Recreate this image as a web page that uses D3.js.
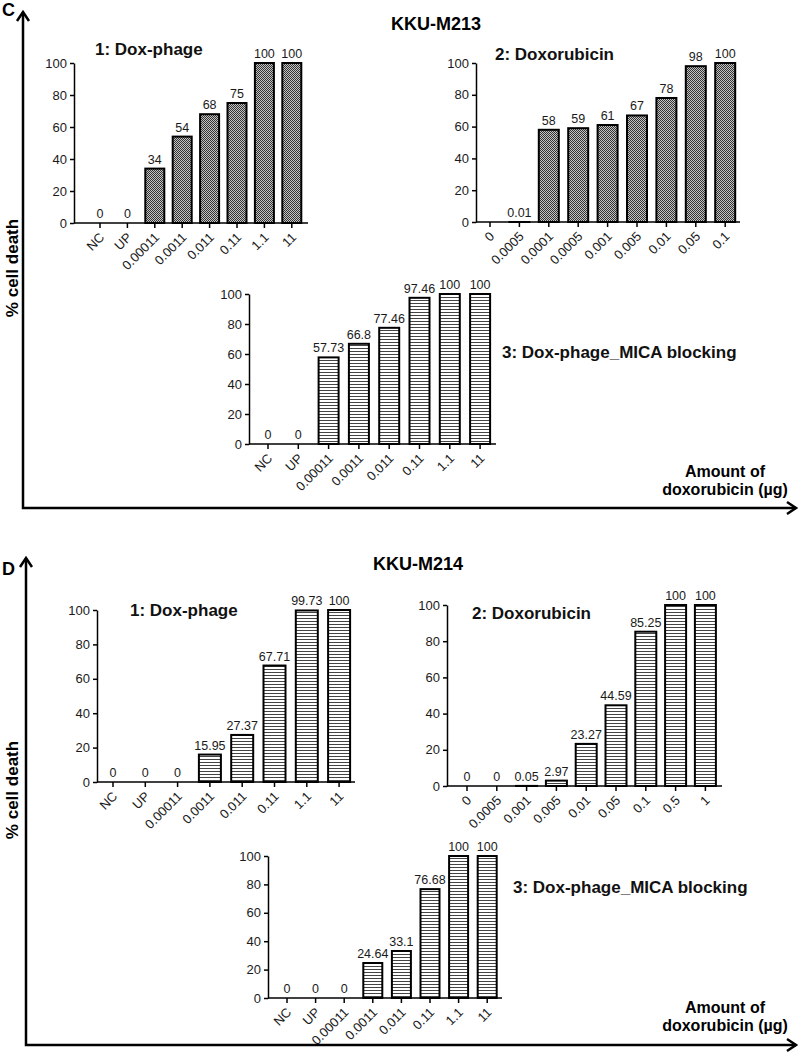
<!DOCTYPE html>
<html><head><meta charset="utf-8">
<script src="https://cdn.jsdelivr.net/npm/d3@7"></script>
<style>body{margin:0;background:#fff} text{font-family:"Liberation Sans",Arial,sans-serif}</style>
</head><body><svg id="c" width="799" height="1056"></svg>
<script>
// ---- data ----
const catsPhage = ["NC","UP","0.00011","0.0011","0.011","0.11","1.1","11"];
const catsDoxC = ["0","0.0005","0.0001","0.0005","0.001","0.005","0.01","0.05","0.1"];
const catsDoxD = ["0","0.0005","0.001","0.005","0.01","0.05","0.1","0.5","1"];
const valC1 = [0,0,34,54,68,75,100,100];
const lblC1 = ["0","0","34","54","68","75","100","100"];
const valC2 = [0,0.01,58,59,61,67,78,98,100];
const lblC2 = ["","0.01","58","59","61","67","78","98","100"];
const valC3 = [0,0,57.73,66.8,77.46,97.46,100,100];
const lblC3 = ["0","0","57.73","66.8","77.46","97.46","100","100"];
const valD1 = [0,0,0,15.95,27.37,67.71,99.73,100];
const lblD1 = ["0","0","0","15.95","27.37","67.71","99.73","100"];
const valD2 = [0,0,0.05,2.97,23.27,44.59,85.25,100,100];
const lblD2 = ["0","0","0.05","2.97","23.27","44.59","85.25","100","100"];
const valD3 = [0,0,0,24.64,33.1,76.68,100,100];
const lblD3 = ["0","0","0","24.64","33.1","76.68","100","100"];
const yTicks = [0,20,40,60,80,100];

const svg = d3.select("#c");
const defs = svg.append("defs");
const ch = defs.append("pattern").attr("id","check").attr("width",2).attr("height",2).attr("patternUnits","userSpaceOnUse");
ch.append("rect").attr("width",2).attr("height",2).attr("fill","#c4c4c4");
ch.append("rect").attr("width",1).attr("height",1).attr("fill","#333");
ch.append("rect").attr("x",1).attr("y",1).attr("width",1).attr("height",1).attr("fill","#333");
const st = defs.append("pattern").attr("id","stripe").attr("width",4).attr("height",3).attr("patternUnits","userSpaceOnUse");
st.append("rect").attr("width",4).attr("height",3).attr("fill","#fff");
st.append("rect").attr("width",4).attr("height",1).attr("fill","#444");

function chart(cfg){
  const n = cfg.cats.length;
  const pi = 1 - cfg.bw/cfg.step;
  const x = d3.scaleBand().domain(d3.range(n))
    .range([cfg.c0 - cfg.step/2, cfg.c0 + (n-0.5)*cfg.step]).paddingInner(pi).paddingOuter(pi/2);
  const y = d3.scaleLinear().domain([0,100]).range([cfg.y0, cfg.y100]);
  const g = svg.append("g");
  g.selectAll("rect.bar").data(cfg.vals).join("rect").attr("class","bar")
    .attr("x",(d,i)=>x(i)).attr("width",x.bandwidth())
    .attr("y",d=>y(d)).attr("height",d=>y(0)-y(d))
    .attr("fill",`url(#${cfg.pat})`).attr("stroke","#000").attr("stroke-width",2);
  g.selectAll("text.val").data(cfg.vals).join("text").attr("class","val")
    .attr("x",(d,i)=>x(i)+x.bandwidth()/2).attr("y",d=>y(d)-5)
    .attr("text-anchor","middle").attr("font-size",12.5).attr("fill","#1a1a1a")
    .text((d,i)=>cfg.lbls[i]);
  const gx = g.append("g").attr("transform",`translate(0,${cfg.y0})`)
    .call(d3.axisBottom(x).tickFormat(i=>cfg.cats[i]).tickSize(5).tickSizeOuter(0));
  gx.select(".domain").remove();
  gx.selectAll(".tick line").attr("stroke","#000").attr("stroke-width",1.5);
  gx.selectAll(".tick text").attr("x",0).attr("y",0).attr("dy","0.35em")
    .attr("transform","translate(2,12) rotate(-45)").attr("text-anchor","end")
    .attr("font-size",13).attr("fill","#1a1a1a").attr("font-family","Liberation Sans, Arial, sans-serif");
  g.append("line").attr("x1",cfg.ax).attr("x2",cfg.end).attr("y1",cfg.y0).attr("y2",cfg.y0)
    .attr("stroke","#000").attr("stroke-width",1.5);
  const gy = g.append("g").attr("transform",`translate(${cfg.ax},0)`)
    .call(d3.axisLeft(y).tickValues(yTicks).tickSize(4).tickSizeOuter(0));
  gy.select(".domain").attr("stroke","#000").attr("stroke-width",1.5);
  gy.selectAll(".tick line").attr("stroke","#000").attr("stroke-width",1.5);
  gy.selectAll(".tick text").attr("font-size",13).attr("fill","#1a1a1a")
    .attr("font-family","Liberation Sans, Arial, sans-serif");
  g.append("text").attr("x",cfg.tx).attr("y",cfg.ty).attr("font-size",17).attr("font-weight","bold")
    .attr("fill","#111").text(cfg.title);
}

chart({cats:catsPhage, vals:valC1, lbls:lblC1, pat:"check", ax:74, c0:100, step:27.4, bw:19, y0:223, y100:63, end:308, title:"1: Dox-phage", tx:95, ty:55});
chart({cats:catsDoxC, vals:valC2, lbls:lblC2, pat:"check", ax:476, c0:490, step:29.4, bw:20, y0:222, y100:63, end:740, title:"2: Doxorubicin", tx:495, ty:60});
chart({cats:catsPhage, vals:valC3, lbls:lblC3, pat:"stripe", ax:249, c0:268, step:30.3, bw:20, y0:444, y100:294, end:496, title:"3: Dox-phage_MICA blocking", tx:502, ty:358});
chart({cats:catsPhage, vals:valD1, lbls:lblD1, pat:"stripe", ax:97, c0:113, step:32.3, bw:22, y0:782, y100:610, end:355, title:"1: Dox-phage", tx:130, ty:616});
chart({cats:catsDoxD, vals:valD2, lbls:lblD2, pat:"stripe", ax:447, c0:467, step:29.8, bw:21, y0:786, y100:605, end:722, title:"2: Doxorubicin", tx:472, ty:619});
chart({cats:catsPhage, vals:valD3, lbls:lblD3, pat:"stripe", ax:268, c0:287, step:28.6, bw:19, y0:998, y100:856, end:502, title:"3: Dox-phage_MICA blocking", tx:513, ty:893});

function frame(p){
  const g = svg.append("g");
  g.append("path").attr("d",`M${p.x},${p.tip} V${p.base} H${p.end}`)
    .attr("fill","none").attr("stroke","#000").attr("stroke-width",2.5);
  g.append("path").attr("d",`M${p.x-6},${p.tip+9} L${p.x},${p.tip} L${p.x+6},${p.tip+9}`)
    .attr("fill","none").attr("stroke","#000").attr("stroke-width",2.5);
  g.append("path").attr("d",`M${p.end-9},${p.base-6} L${p.end},${p.base} L${p.end-9},${p.base+6}`)
    .attr("fill","none").attr("stroke","#000").attr("stroke-width",2.5);
  g.append("text").attr("x",2).attr("y",p.ly).attr("font-size",18).attr("font-weight","bold").text(p.letter);
  g.append("text").attr("transform",`translate(${p.yx},${p.yc}) rotate(-90)`).attr("text-anchor","middle")
    .attr("font-size",17).attr("font-weight","bold").text("% cell death");
  g.append("text").attr("x",p.kx).attr("y",p.ky).attr("text-anchor","middle")
    .attr("font-size",18).attr("font-weight","bold").text(p.name);
  g.append("text").attr("x",725).attr("y",p.a1).attr("text-anchor","middle")
    .attr("font-size",16).attr("font-weight","bold").text("Amount of");
  g.append("text").attr("x",725).attr("y",p.a1+18).attr("text-anchor","middle")
    .attr("font-size",16).attr("font-weight","bold").text("doxorubicin (\u00b5g)");
}
frame({x:23, tip:12, base:508, end:796, letter:"C", ly:16, yx:18, yc:268, kx:436, ky:30, name:"KKU-M213", a1:477});
frame({x:26, tip:558, base:1045, end:796, letter:"D", ly:575, yx:18, yc:790, kx:418, ky:570, name:"KKU-M214", a1:1013});
</script></body></html>
